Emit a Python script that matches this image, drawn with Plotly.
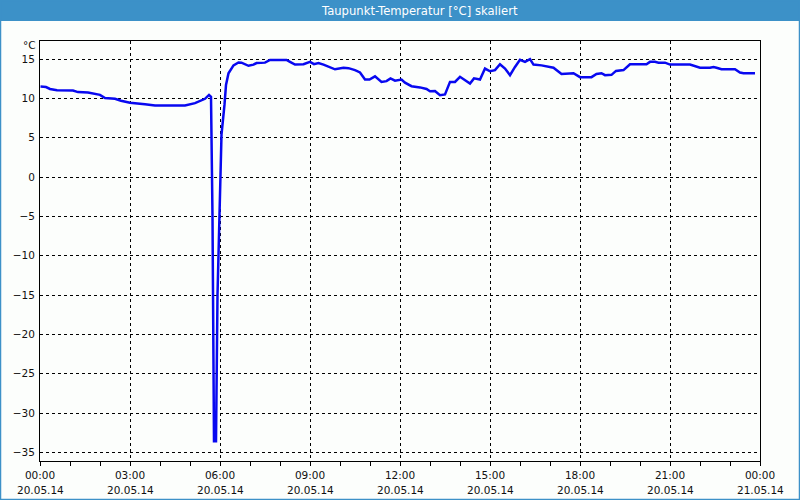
import plotly.graph_objects as go
import pandas as pd

# ---- data ----
times = ["00:01", "00:12", "00:20", "00:34", "01:06", "01:16", "01:36", "02:00", "02:10", "02:30",
         "02:42", "03:00", "03:30", "03:50", "04:50", "05:10", "05:30", "05:38", "05:42", "05:45",
         "05:48", "05:52", "05:55", "06:01", "06:03", "06:09", "06:12", "06:17", "06:27", "06:37",
         "06:43", "06:57", "07:07", "07:13", "07:30", "07:40", "08:13", "08:20", "08:30", "08:47",
         "09:00", "09:08", "09:17", "09:27", "09:40", "09:50", "10:07", "10:17", "10:30", "10:40",
         "10:50", "10:59", "11:10", "11:23", "11:33", "11:41", "11:50", "12:03", "12:10", "12:23",
         "12:40", "12:53", "13:00", "13:10", "13:20", "13:30", "13:40", "13:50", "14:00", "14:10",
         "14:20", "14:28", "14:40", "14:50", "15:00", "15:10", "15:20", "15:30", "15:40", "15:50",
         "16:00", "16:10", "16:20", "16:27", "16:43", "17:07", "17:23", "17:47", "18:00", "18:23",
         "18:33", "18:43", "18:50", "19:03", "19:12", "19:27", "19:40", "20:13", "20:20", "20:30",
         "20:37", "20:50", "21:00", "21:40", "21:50", "22:00", "22:20", "22:27", "22:33", "22:43",
         "23:10", "23:20", "23:27", "23:50"]
dewpoint = [11.5, 11.45, 11.2, 11.05, 11.0, 10.8, 10.75, 10.45, 10.05, 9.95,
            9.7, 9.45, 9.25, 9.1, 9.1, 9.4, 9.95, 10.45, 10.2, -5.0,
            -33.6, -33.6, -15.0, 0.3, 5.4, 9.2, 11.7, 13.2, 14.2, 14.57,
            14.55, 14.15, 14.3, 14.5, 14.55, 14.9, 14.9, 14.65, 14.3, 14.35,
            14.65, 14.35, 14.5, 14.3, 14.0, 13.7, 13.9, 13.85, 13.6, 13.3,
            12.4, 12.4, 12.8, 12.1, 12.2, 12.55, 12.25, 12.4, 12.0, 11.55,
            11.4, 11.2, 10.9, 10.95, 10.4, 10.5, 12.1, 12.1, 12.75, 12.3,
            11.9, 12.55, 12.4, 13.8, 13.45, 13.6, 14.35, 13.8, 12.95, 14.0,
            14.9, 14.65, 15.0, 14.3, 14.2, 13.9, 13.1, 13.2, 12.7, 12.7,
            13.1, 13.2, 12.95, 13.0, 13.5, 13.6, 14.35, 14.35, 14.65, 14.65,
            14.55, 14.55, 14.3, 14.3, 14.1, 13.9, 13.9, 14.0, 13.9, 13.7,
            13.7, 13.3, 13.2, 13.2]
assert len(times) == len(dewpoint)

x_tick_vals = ["2014-05-20 00:00", "2014-05-20 03:00", "2014-05-20 06:00", "2014-05-20 09:00",
               "2014-05-20 12:00", "2014-05-20 15:00", "2014-05-20 18:00", "2014-05-20 21:00",
               "2014-05-21 00:00"]
x_tick_time = ["00:00", "03:00", "06:00", "09:00", "12:00", "15:00", "18:00", "21:00", "00:00"]
x_tick_date = ["20.05.14", "20.05.14", "20.05.14", "20.05.14", "20.05.14", "20.05.14",
               "20.05.14", "20.05.14", "21.05.14"]
y_tick_vals = [15, 10, 5, 0, -5, -10, -15, -20, -25, -30, -35]

title_text = "Taupunkt-Temperatur [°C] skaliert"
unit_text = "°C"

x = pd.to_datetime(["2014-05-20 " + t for t in times])

W, H = 800, 500
ML, MR, MT, MB = 40, 40, 41, 39
PW, PH = W - ML - MR, H - MT - MB

def px_x(p):
    return (p - ML) / PW

def px_y(p):
    return 1 - (p - MT) / PH

font_main = "DejaVu Sans"
fsize = 10.5
txt_col = "#111111"
bar_blue = "#3C91C8"

fig = go.Figure()
fig.add_trace(go.Scatter(x=x, y=dewpoint, mode="lines",
                         line=dict(color="#0808F0", width=2.5),
                         hoverinfo="skip", showlegend=False))

annotations = [
    dict(text=title_text, xref="paper", yref="paper",
         x=px_x(419), y=px_y(10.5), xanchor="center", yanchor="middle",
         showarrow=False, font=dict(family=font_main, size=11.6, color="#FFFFFF")),
    dict(text=unit_text, xref="paper", yref="paper",
         x=px_x(38), y=px_y(45.5), xanchor="right", yanchor="middle",
         showarrow=False, font=dict(family=font_main, size=fsize, color=txt_col)),
]
for tv, td in zip(x_tick_vals, x_tick_date):
    annotations.append(dict(text=td, xref="x", yref="paper", x=tv, y=px_y(490),
                            xanchor="center", yanchor="middle", showarrow=False,
                            font=dict(family=font_main, size=fsize, color=txt_col)))

fig.update_layout(
    width=W, height=H,
    margin=dict(l=ML, r=MR, t=MT, b=MB),
    paper_bgcolor="#FCFEFC", plot_bgcolor="#FCFEFC",
    font=dict(family=font_main, size=fsize, color=txt_col),
    showlegend=False,
    xaxis=dict(
        type="date", automargin=False,
        range=["2014-05-20 00:00", "2014-05-21 00:00"],
        tickvals=x_tick_vals, ticktext=x_tick_time,
        showgrid=True, gridcolor="#000000", gridwidth=1, griddash="3px,3px",
        showline=True, linecolor="#000000", linewidth=1, mirror=True,
        ticks="outside", ticklen=4, tickcolor="#000000",
        minor=dict(dtick=3600000, ticks="outside", ticklen=4, tickcolor="#000000", showgrid=False),
        tickfont=dict(family=font_main, size=fsize, color=txt_col),
        zeroline=False, fixedrange=True,
    ),
    yaxis=dict(
        automargin=False,
        range=[-36.1, 17.3],
        tickvals=y_tick_vals,
        showgrid=True, gridcolor="#000000", gridwidth=1, griddash="3px,3px",
        showline=True, linecolor="#000000", linewidth=1, mirror=True,
        ticks="", ticklabelstandoff=2,
        tickfont=dict(family=font_main, size=fsize, color=txt_col),
        zeroline=False, fixedrange=True,
    ),
    shapes=[
        dict(type="rect", xref="paper", yref="paper",
             x0=px_x(0), x1=px_x(W), y0=px_y(21), y1=px_y(0),
             fillcolor=bar_blue, line=dict(width=0), layer="above"),
        dict(type="rect", xref="paper", yref="paper",
             x0=px_x(0.5), x1=px_x(W - 0.5), y0=px_y(H - 0.5), y1=px_y(0.5),
             fillcolor="rgba(0,0,0,0)", line=dict(color=bar_blue, width=1.5), layer="above"),
    ],
    annotations=annotations,
)

fig.write_html("out.html")
